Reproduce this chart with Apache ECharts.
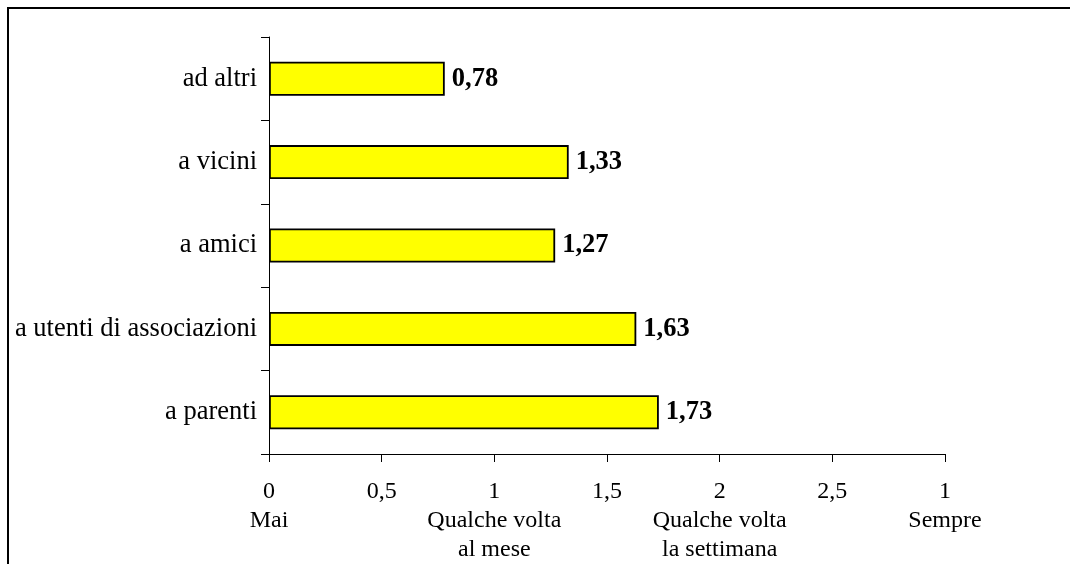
<!DOCTYPE html>
<html>
<head>
<meta charset="utf-8">
<script src="https://cdn.jsdelivr.net/npm/echarts@6/dist/echarts.min.js"></script>
<style>
  html, body { margin: 0; padding: 0; background: #fff; }
  #chart { width: 1070px; height: 564px; }
</style>
</head>
<body>
<div id="chart"></div>
<script>
// categorie dall'alto verso il basso
const categories = ['ad altri', 'a vicini', 'a amici', 'a utenti di associazioni', 'a parenti']
const values = [0.78, 1.33, 1.27, 1.63, 1.73]
// etichette dell'asse x (0, 0.5, ... 3)
const tickLabels = ['0\nMai', '0,5', '1\nQualche volta\nal mese', '1,5', '2\nQualche volta\nla settimana', '2,5', '1\nSempre']

const serif = '"Liberation Serif", "Times New Roman", serif'

const chart = echarts.init(document.getElementById('chart'))
const option = {
  animation: false,
  backgroundColor: '#fff',
  grid: { left: 269, right: 125, top: 37, bottom: 110, containLabel: false },
  graphic: [
    {
      type: 'rect',
      shape: { x: 8, y: 8, width: 1100, height: 600 },
      style: { fill: 'none', stroke: '#000', lineWidth: 2 },
      silent: true
    }
  ],
  xAxis: {
    type: 'value',
    min: 0,
    max: 3,
    interval: 0.5,
    splitLine: { show: false },
    axisLine: { show: true, lineStyle: { color: '#000', width: 1 } },
    axisTick: { show: true, length: 8, lineStyle: { color: '#000' } },
    axisLabel: {
      margin: 23,
      fontFamily: serif,
      fontSize: 24,
      lineHeight: 29,
      color: '#000',
      align: 'center',
      formatter: function (v) {
        const i = Math.round(v / 0.5)
        return tickLabels[i] || ''
      }
    }
  },
  yAxis: {
    type: 'category',
    inverse: true,
    data: categories,
    axisLine: { show: true, lineStyle: { color: '#000', width: 1 } },
    axisTick: { show: true, length: 8, lineStyle: { color: '#000' } },
    axisLabel: {
      margin: 12,
      fontFamily: serif,
      fontSize: 26.5,
      color: '#000'
    }
  },
  series: [
    {
      type: 'bar',
      data: values,
      barWidth: 34,
      itemStyle: { color: '#ffff00', borderColor: '#000', borderWidth: 1.8 },
      label: {
        show: true,
        position: 'right',
        distance: 7,
        fontFamily: serif,
        fontSize: 26.5,
        fontWeight: 'bold',
        color: '#000',
        formatter: function (p) {
          return p.value.toFixed(2).replace('.', ',')
        }
      }
    }
  ]
}
chart.setOption(option)
</script>
</body>
</html>
